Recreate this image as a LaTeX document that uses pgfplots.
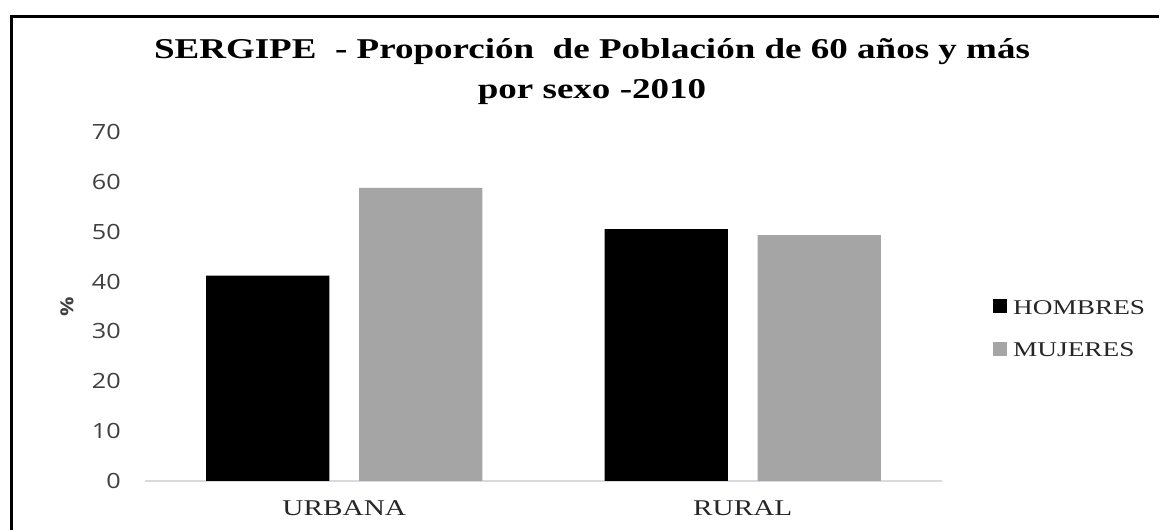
\documentclass[border=0pt]{standalone}
\usepackage{pgfplots}
\pgfplotsset{compat=1.18}
\usepackage{fontspec}
\setmainfont{Liberation Serif}
\newfontfamily\titlefont[FakeStretch=1.29]{Liberation Serif}
\newfontfamily\labfont[FakeStretch=1.3]{Liberation Serif}
\newfontfamily\tickfont[FakeStretch=1.2]{Open Sans}
\definecolor{mgray}{HTML}{A5A5A5}
\definecolor{basegray}{HTML}{D9D9E0}
\definecolor{txtgray}{HTML}{404040}
\begin{document}
\begin{tikzpicture}
\path[use as bounding box] (0bp,0bp) rectangle (1159bp,530bp);
% frame
\draw[line width=3bp] (11bp,0bp) -- (11bp,513.5bp) -- (1159bp,513.5bp);
% title
\node[align=center, font=\titlefont\bfseries\fontsize{28.7bp}{40bp}\selectfont] at (592bp,458bp)
  {SERGIPE\ \ - Proporción\ \ de Población de 60 años y más\\por sexo -2010};
\begin{axis}[
  at={(145bp,49bp)}, anchor=south west,
  scale only axis, width=797bp, height=349bp,
  xmin=-0.5, xmax=1.5, ymin=0, ymax=70,
  xtick={0,1}, xticklabels={URBANA,RURAL},
  ytick={0,10,...,70},
  /pgf/number format/assume math mode=true,
  axis x line=bottom, axis y line=left,
  x axis line style={color=basegray, line width=1.5bp, -},
  y axis line style={draw=none},
  major tick length=0pt,
  yticklabel style={font=\tickfont\fontsize{21bp}{24bp}\selectfont, text=txtgray, anchor=east, inner sep=0pt, xshift=-24bp},
  xticklabel style={font=\labfont\fontsize{22.5bp}{26bp}\selectfont, text=black!85, anchor=north, inner sep=0pt, yshift=-19bp},
  ylabel={\%},
  every axis y label/.style={at={(rel axis cs:0,0.5)}, xshift=-78bp, rotate=90, anchor=center,
     font=\tickfont\bfseries\fontsize{18bp}{20bp}\selectfont, text=txtgray},
  legend style={at={(1,0.5)}, anchor=west, xshift=51bp, yshift=-22bp, draw=none, fill=none,
    inner sep=0pt, row sep=26bp, font=\labfont\fontsize{21bp}{24bp}\selectfont,
    nodes={inner sep=0pt, text=black!85}},
  legend cell align=left,
  legend style={/tikz/every odd column/.append style={column sep=6bp}},
]
\addplot[ybar, bar width=0.309, bar shift=-0.192, fill=black, draw=none,
  legend image code/.code={\fill[black] (0bp,-5bp) rectangle (14bp,9bp);}]
  coordinates {(0,41.2) (1,50.5)};
\addlegendentry{HOMBRES}
\addplot[ybar, bar width=0.309, bar shift=0.192, fill=mgray, draw=none,
  legend image code/.code={\fill[mgray] (0bp,-5bp) rectangle (14bp,9bp);}]
  coordinates {(0,58.8) (1,49.3)};
\addlegendentry{MUJERES}
\end{axis}
\end{tikzpicture}
\end{document}
